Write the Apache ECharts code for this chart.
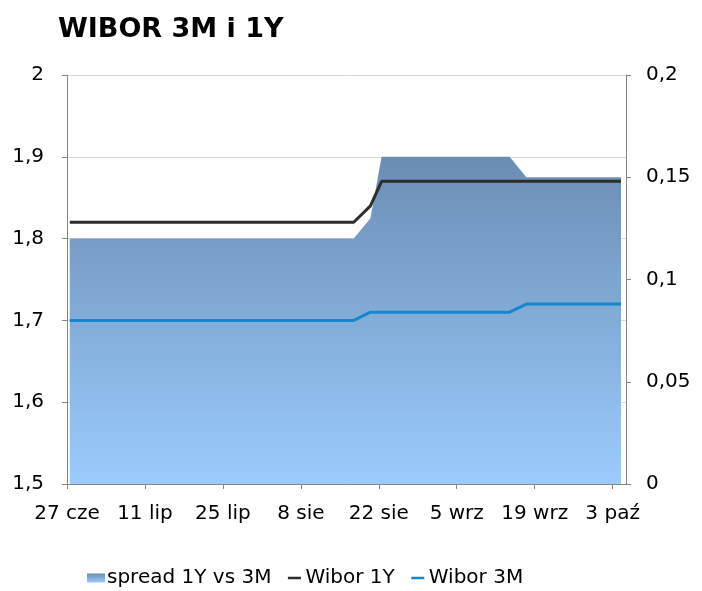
<!DOCTYPE html>
<html>
<head>
<meta charset="utf-8">
<script src="https://cdn.jsdelivr.net/npm/echarts@6/dist/echarts.min.js"></script>
<style>
  html, body { margin: 0; padding: 0; background: #fff; }
  #chart { width: 702px; height: 591px; }
</style>
</head>
<body>
<div id="chart"></div>
<script>
// dane (dni robocze, punkty zmian)
var startDate = '2018-06-27';
var dates   = ['2018-06-27', '2018-08-17', '2018-08-20', '2018-08-22', '2018-09-14', '2018-09-17', '2018-10-04'];
var wibor1Y = [1.82, 1.82, 1.84, 1.87, 1.87, 1.87, 1.87];
var wibor3M = [1.70, 1.70, 1.71, 1.71, 1.71, 1.72, 1.72];
var spread  = [0.12, 0.12, 0.13, 0.16, 0.16, 0.15, 0.15];
// etykiety osi X co 14 dni
var tickLabels = ['27 cze', '11 lip', '25 lip', '8 sie', '22 sie', '5 wrz', '19 wrz', '3 paź'];
var tickStep = 14;

var FONT = 'DejaVu Sans';

// dzien od poczatku osi (punkt w srodku dnia)
function dayPos(d) {
    return (Date.parse(d) - Date.parse(startDate)) / 86400000 + 0.5;
}
function pair(vals) {
    var out = [];
    for (var i = 0; i < dates.length; i++) {
        out.push([dayPos(dates[i]), vals[i]]);
    }
    return out;
}
function comma(v) {
    return String(+v.toFixed(2)).replace('.', ',');
}

var tickValues = [];
for (var i = 0; i < tickLabels.length; i++) tickValues.push(i * tickStep);

var areaGrad = new echarts.graphic.LinearGradient(0, 0, 0, 1, [
    { offset: 0, color: '#6b8db4' },
    { offset: 1, color: '#9bccfd' }
]);
// ikona linii w legendzie (male kropki w rogach ustalaja rozmiar ramki)
var lineIcon = 'path://M2.5,3.2 L15.5,3.2 L15.5,5.8 L2.5,5.8 Z M0,0 L0.01,0 L0,0.01 Z M18,9 L17.99,9 L18,8.99 Z';

var myChart = echarts.init(document.getElementById('chart'));
var option = {
    animation: false,
    backgroundColor: '#fff',
    title: {
        text: 'WIBOR 3M i 1Y',
        left: 53,
        top: 11,
        textStyle: { fontFamily: FONT, fontSize: 27, fontWeight: 'bold', color: '#000' }
    },
    legend: {
        left: 82,
        top: 563,
        itemGap: 14,
        itemWidth: 18,
        itemHeight: 9,
        textStyle: { fontFamily: FONT, fontSize: 20, color: '#000', padding: [0, 0, 0, -3] },
        data: [
            { name: 'spread 1Y vs 3M', icon: 'rect' },
            { name: 'Wibor 1Y', icon: lineIcon },
            { name: 'Wibor 3M', icon: lineIcon }
        ]
    },
    grid: { left: 67, right: 76, top: 75, bottom: 107 },
    xAxis: {
        type: 'value',
        min: 0,
        max: 100.4,
        axisLine: { show: true, lineStyle: { color: '#868686' } },
        axisTick: { show: true, length: 5, customValues: tickValues, lineStyle: { color: '#868686' } },
        axisLabel: {
            customValues: tickValues,
            margin: 20,
            fontFamily: FONT, fontSize: 20, color: '#000',
            formatter: function (v) { return tickLabels[Math.round(v / tickStep)] || ''; }
        },
        splitLine: { show: false }
    },
    yAxis: [{
        type: 'value',
        min: 1.5, max: 2, interval: 0.1,
        axisLine: { show: true, lineStyle: { color: '#868686' } },
        axisTick: { show: true, length: 5, lineStyle: { color: '#868686' } },
        axisLabel: { margin: 23, fontFamily: FONT, fontSize: 20, color: '#000', formatter: comma },
        splitLine: { show: true, lineStyle: { color: '#d9d9d9' } }
    }, {
        type: 'value',
        min: 0, max: 0.2, interval: 0.05,
        position: 'right',
        axisLine: { show: true, lineStyle: { color: '#868686' } },
        axisTick: { show: true, length: 5, lineStyle: { color: '#868686' } },
        axisLabel: { margin: 20, fontFamily: FONT, fontSize: 20, color: '#000', formatter: comma },
        splitLine: { show: false }
    }],
    series: [{
        name: 'spread 1Y vs 3M',
        type: 'line',
        yAxisIndex: 1,
        data: pair(spread),
        symbol: 'none',
        color: '#7f9fc6',
        itemStyle: { color: areaGrad },
        lineStyle: { width: 0 },
        areaStyle: { color: areaGrad, opacity: 1 },
        z: 1
    }, {
        name: 'Wibor 1Y',
        type: 'line',
        data: pair(wibor1Y),
        symbol: 'none',
        color: '#2d2d2d',
        lineStyle: { width: 3, color: '#2d2d2d' },
        z: 3
    }, {
        name: 'Wibor 3M',
        type: 'line',
        data: pair(wibor3M),
        symbol: 'none',
        color: '#1786cc',
        lineStyle: { width: 3, color: '#1786cc' },
        z: 3
    }]
};
myChart.setOption(option);
</script>
</body>
</html>
